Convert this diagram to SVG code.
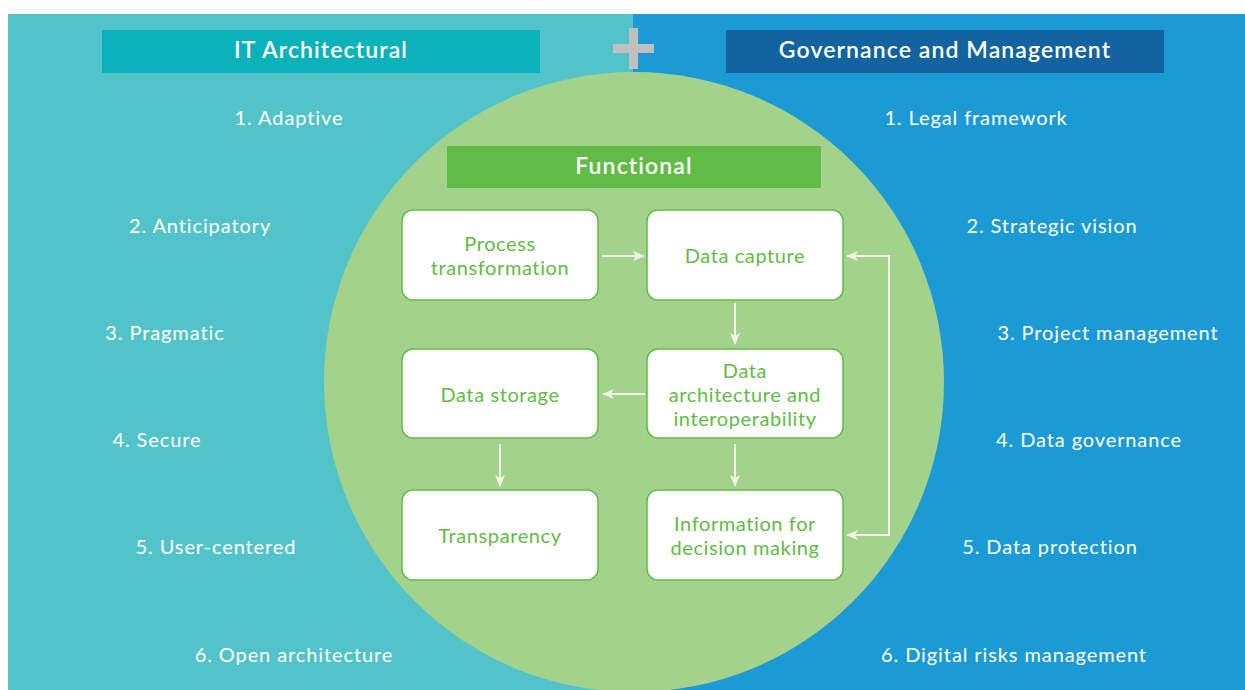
<svg xmlns="http://www.w3.org/2000/svg" width="1245" height="690" viewBox="0 0 1245 690">
<defs>
<style>
.item{font-family:Lato,"Open Sans",sans-serif;font-size:20px;letter-spacing:0.9px;fill:#ffffff;text-anchor:middle}
.hdr{font-family:Lato,"Open Sans",sans-serif;font-size:23px;letter-spacing:1.1px;font-weight:600;fill:#ffffff;text-anchor:middle}
.box{fill:#ffffff;stroke:#62bb47;stroke-width:1.5}
.bt{font-family:Lato,"Open Sans",sans-serif;font-size:20px;letter-spacing:0.6px;fill:#62bb47;text-anchor:middle}
.con{fill:none;stroke:#f1f3e6;stroke-width:2}
</style>
<marker id="ah" viewBox="0 0 12 10" refX="11" refY="5" markerWidth="12" markerHeight="10" markerUnits="userSpaceOnUse" orient="auto-start-reverse">
<path d="M0,0 L12,5 L0,10 L3,5 Z" fill="#f1f3e6"/>
</marker>
</defs>
<rect x="0" y="0" width="1245" height="690" fill="#ffffff"/>
<rect x="8" y="14" width="625" height="676" fill="#52c3c9"/>
<rect x="633" y="14" width="612" height="676" fill="#1b9ad6"/>
<circle cx="634" cy="382" r="310" fill="#a2d28c"/>
<g id="plus" fill="#c0c0c0">
<rect x="613" y="44" width="41" height="9"/>
<rect x="629" y="28" width="9" height="41"/>
</g>
<g id="it-header"><rect x="102" y="30" width="438" height="43" fill="#0bb2b9"/><text class="hdr" x="321" y="58">IT Architectural</text></g>
<g id="gov-header"><rect x="726" y="30" width="438" height="43" fill="#1263a0"/><text class="hdr" x="945" y="58">Governance and Management</text></g>
<g id="functional-header"><rect x="447" y="146" width="374" height="42" fill="#62bb47"/><text class="hdr" x="634" y="174">Functional</text></g>
<g id="left-list">
<text class="item" x="289" y="125">1. Adaptive</text>
<text class="item" x="200" y="233">2. Anticipatory</text>
<text class="item" x="165" y="340">3. Pragmatic</text>
<text class="item" x="157" y="447">4. Secure</text>
<text class="item" x="216" y="554">5. User-centered</text>
<text class="item" x="294" y="662">6. Open architecture</text>
</g>
<g id="right-list">
<text class="item" x="976" y="125">1. Legal framework</text>
<text class="item" x="1052" y="233">2. Strategic vision</text>
<text class="item" x="1108" y="340">3. Project management</text>
<text class="item" x="1089" y="447">4. Data governance</text>
<text class="item" x="1050" y="554">5. Data protection</text>
<text class="item" x="1014" y="662">6. Digital risks management</text>
</g>
<g id="node-process"><rect class="box" x="402" y="210" width="196" height="90" rx="11"/><text class="bt" x="500" y="251">Process</text><text class="bt" x="500" y="275">transformation</text></g>
<g id="node-capture"><rect class="box" x="647" y="210" width="196" height="90" rx="11"/><text class="bt" x="745" y="263">Data capture</text></g>
<g id="node-storage"><rect class="box" x="402" y="349" width="196" height="89" rx="11"/><text class="bt" x="500" y="402">Data storage</text></g>
<g id="node-arch"><rect class="box" x="647" y="349" width="196" height="89" rx="11"/><text class="bt" x="745" y="378">Data</text><text class="bt" x="745" y="402">architecture and</text><text class="bt" x="745" y="426">interoperability</text></g>
<g id="node-transparency"><rect class="box" x="402" y="490" width="196" height="90" rx="11"/><text class="bt" x="500" y="543">Transparency</text></g>
<g id="node-info"><rect class="box" x="647" y="490" width="196" height="90" rx="11"/><text class="bt" x="745" y="531">Information for</text><text class="bt" x="745" y="555">decision making</text></g>
<g id="connectors">
<line class="con" x1="602" y1="256" x2="644" y2="256" marker-end="url(#ah)"/>
<line class="con" x1="735" y1="303" x2="735" y2="344" marker-end="url(#ah)"/>
<line class="con" x1="645" y1="394" x2="603" y2="394" marker-end="url(#ah)"/>
<line class="con" x1="500" y1="444" x2="500" y2="486" marker-end="url(#ah)"/>
<line class="con" x1="735" y1="444" x2="735" y2="486" marker-end="url(#ah)"/>
<polyline class="con" points="847,256 889,256 889,535 847,535" marker-start="url(#ah)" marker-end="url(#ah)"/>
</g>
</svg>
